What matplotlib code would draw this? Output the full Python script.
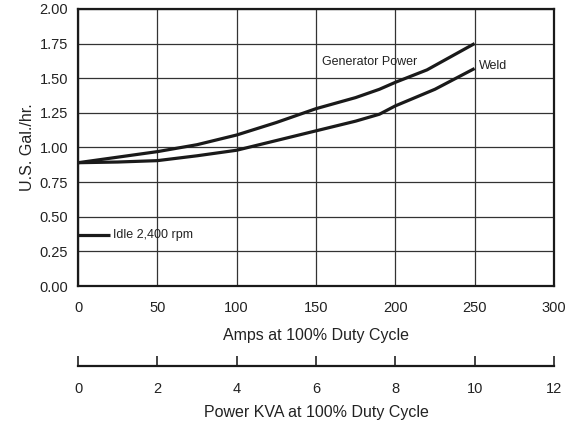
import numpy as np
import matplotlib.pyplot as plt

plt.rcParams['font.family'] = ['Liberation Sans Narrow', 'Liberation Sans', 'DejaVu Sans']

# data
gen_amps = [0, 25, 50, 75, 100, 125, 150, 175, 190, 200, 220, 250]
gen_gal = [0.89, 0.93, 0.97, 1.02, 1.09, 1.18, 1.28, 1.36, 1.42, 1.47, 1.56, 1.75]
weld_amps = [0, 25, 50, 75, 100, 125, 150, 175, 190, 200, 225, 250]
weld_gal = [0.89, 0.895, 0.905, 0.94, 0.98, 1.05, 1.12, 1.19, 1.24, 1.30, 1.42, 1.57]
idle_amps = [0, 20]
idle_gal = [0.37, 0.37]

amp_ticks = [0, 50, 100, 150, 200, 250, 300]
gal_ticks = [0.0, 0.25, 0.5, 0.75, 1.0, 1.25, 1.5, 1.75, 2.0]
kva_ticks = [0, 2, 4, 6, 8, 10, 12]

fig = plt.figure(figsize=(5.8, 4.25), dpi=100)
ax = fig.add_axes([0.1345, 0.327, 0.8205, 0.652])

ax.plot(gen_amps, gen_gal, color='#1a1a1a', lw=2.3, solid_capstyle='butt')
ax.plot(weld_amps, weld_gal, color='#1a1a1a', lw=2.3, solid_capstyle='butt')
ax.plot(idle_amps, idle_gal, color='#1a1a1a', lw=2.3, solid_capstyle='butt')

ax.text(154, 1.62, 'Generator Power', fontsize=9, va='center', ha='left', color='#222')
ax.text(253, 1.585, 'Weld', fontsize=9, va='center', ha='left', color='#222')
ax.text(22, 0.37, 'Idle 2,400 rpm', fontsize=9, va='center', ha='left', color='#222')

ax.set_xlim(0, 300)
ax.set_ylim(0, 2)
ax.set_xticks(amp_ticks)
ax.set_yticks(gal_ticks)
ax.set_yticklabels(['%.2f' % v for v in gal_ticks])
ax.grid(True, color='#333333', lw=0.9)
ax.tick_params(length=0, labelsize=10.5, colors='#222')
ax.tick_params(axis='y', pad=7)
ax.tick_params(axis='x', pad=11)
for s in ax.spines.values():
    s.set_linewidth(1.6)
    s.set_color('#1a1a1a')
ax.set_xlabel('Amps at 100% Duty Cycle', fontsize=11.5, labelpad=9, color='#222')
ax.set_ylabel('U.S. Gal./hr.', fontsize=11.5, labelpad=3, color='#222')

# second scale
ax2 = fig.add_axes([0.1345, 0.1395, 0.8205, 0.0001])
ax2.set_xlim(0, 12)
ax2.set_xticks(kva_ticks)
ax2.set_yticks([])
for side in ['top', 'left', 'right']:
    ax2.spines[side].set_visible(False)
ax2.spines['bottom'].set_linewidth(1.6)
ax2.spines['bottom'].set_color('#1a1a1a')
ax2.tick_params(axis='x', direction='in', length=7, width=1.2, labelsize=10.5, pad=12, colors='#222')
ax2.set_xlabel('Power KVA at 100% Duty Cycle', fontsize=11.5, labelpad=6, color='#222')

fig.savefig('out.png', dpi=100)
